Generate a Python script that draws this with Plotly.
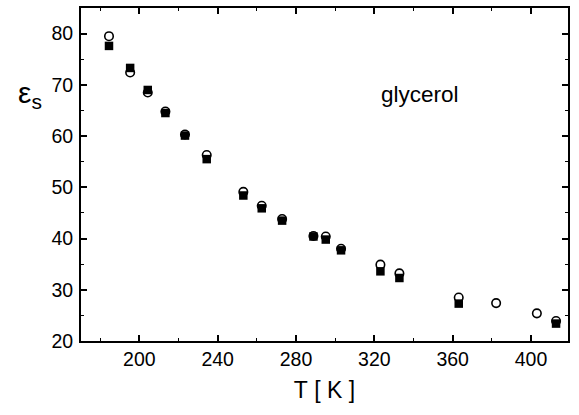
import plotly.graph_objects as go

# Static dielectric constant of glycerol vs temperature
T_filled = [184.5, 195.3, 204.3, 213.3, 223.3, 234.4, 253.1, 262.5, 272.9, 288.9,
            295.2, 303.0, 323.1, 332.8, 363.1, 412.8]
eps_filled = [77.6, 73.3, 69.0, 64.5, 60.1, 55.5, 48.4, 45.9, 43.5, 40.4,
              39.8, 37.7, 33.6, 32.3, 27.3, 23.4]

T_open = [184.5, 195.3, 204.3, 213.3, 223.3, 234.4, 253.1, 262.5, 272.9, 288.9,
          295.2, 303.0, 323.1, 332.8, 363.1, 382.2, 403.0, 412.8]
eps_open = [79.5, 72.4, 68.5, 64.8, 60.3, 56.3, 49.1, 46.4, 43.8, 40.5,
            40.4, 38.0, 34.9, 33.2, 28.5, 27.4, 25.4, 23.9]

x_ticks = [200, 240, 280, 320, 360, 400]
y_ticks = [20, 30, 40, 50, 60, 70, 80]

FONT = "Liberation Sans, Arial, sans-serif"

fig = go.Figure()
fig.add_trace(go.Scatter(
    x=T_filled, y=eps_filled, mode="markers",
    marker=dict(symbol="square", size=8.5, color="black",
                line=dict(width=0)),
    showlegend=False))
fig.add_trace(go.Scatter(
    x=T_open, y=eps_open, mode="markers",
    marker=dict(symbol="circle-open", size=8.5, color="black",
                line=dict(width=1.6)),
    showlegend=False))

axis_common = dict(
    showline=True, linecolor="black", linewidth=1.8, mirror="ticks",
    ticks="inside", ticklen=6, tickwidth=1.5, tickcolor="black",
    showgrid=False, zeroline=False,
    tickfont=dict(family=FONT, size=19.5, color="black"),
)

fig.update_xaxes(
    range=[170.2, 418.9], tickvals=x_ticks,
    minor=dict(dtick=20, tick0=180, ticks="inside", ticklen=3,
               tickwidth=1.2, tickcolor="black", showgrid=False),
    title=dict(text="T&nbsp;[&nbsp;K&nbsp;]",
               font=dict(family=FONT, size=23, color="black"),
               standoff=13),
    **axis_common)
fig.update_yaxes(
    range=[20, 85], tickvals=y_ticks, ticklabelstandoff=2,
    minor=dict(dtick=5, tick0=25, ticks="inside", ticklen=3,
               tickwidth=1.2, tickcolor="black", showgrid=False),
    **axis_common)

# y-axis label: epsilon with subscript s
fig.add_annotation(
    x=-0.105, y=0.74, xref="x domain", yref="y domain",
    text="ε<sub>s</sub>", showarrow=False,
    xanchor="center", yanchor="middle",
    font=dict(family=FONT, size=30, color="black"))

fig.add_annotation(
    x=0.696, y=0.74, xref="x domain", yref="y domain", text="glycerol",
    showarrow=False, xanchor="center", yanchor="middle",
    font=dict(family=FONT, size=22.5, color="black"))

fig.update_layout(
    width=579, height=415,
    margin=dict(l=81, r=11, t=6, b=74),
    paper_bgcolor="white", plot_bgcolor="white",
)

fig.write_html("out.html")
